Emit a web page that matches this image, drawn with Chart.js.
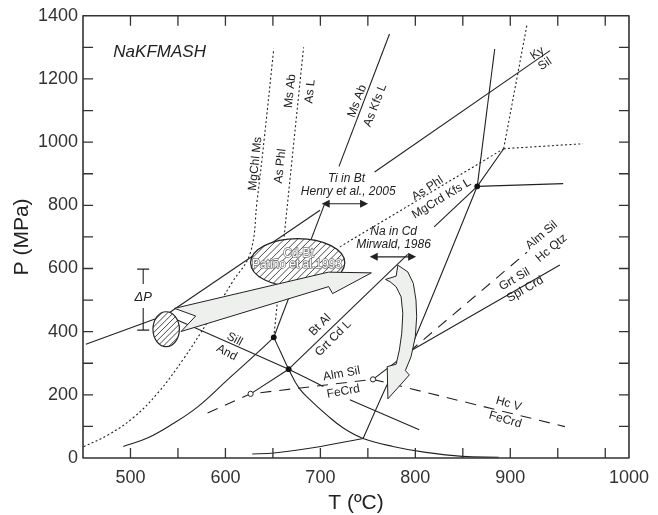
<!DOCTYPE html>
<html><head><meta charset="utf-8">
<script src="https://cdn.jsdelivr.net/npm/chart.js@4.4.1/dist/chart.umd.min.js"></script>
<style>html,body{margin:0;padding:0;background:#fff}canvas{display:block}</style>
</head><body>
<canvas id="c" width="658" height="515"></canvas>
<script>
// Axis ranges: temperature (°C) and pressure (MPa)
const T_MIN = 450, T_MAX = 1025, P_MIN = 0, P_MAX = 1400;
const xTickValues = [500, 600, 700, 800, 900, 1025];
const xTickLabels = ['500', '600', '700', '800', '900', '1000'];
const yTickValues = [0, 200, 400, 600, 800, 1000, 1200, 1400];
const minorTicksT = [500, 550, 600, 650, 700, 750, 800, 850, 900, 950, 1000];
const minorTicksP = [100, 200, 300, 400, 500, 600, 700, 800, 900, 1000, 1100, 1200, 1300];

// Reaction curves as [T, P] pairs
const kyAnd = [[453, 360], [537.3, 452.6]];
const kySilLow = [[537.3, 452.6], [699.6, 784.3]];
const kySilHigh = [[757.1, 905.3], [941.8, 1289.6]];
const andSilA = [[537.3, 452.6], [666.6, 281.1], [703.2, 226.2]];
const andSilB = [[731.0, 184.2], [804.1, 89.4]];
const wetSolidus = [[492.4, 36.6], [518.5, 64.1], [544.6, 108.3], [570.8, 162], [602.1, 247.3], [633.5, 332.6], [650.9, 382.2]];
const meltCurve = [[650.9, 382.2], [658.6, 332.6], [666.6, 281.1], [677.4, 222], [689.2, 184.1], [706.6, 136.7], [724.1, 94.8], [745, 62], [776.3, 36.6], [811.1, 17.7], [849.5, 5], [887.8, 2.5]];
const lowPLine = [[628.2, 12.6], [650.9, 15.8], [700.4, 36.6], [745, 62]];
const btMeltLine = [[745, 62], [771.1, 236.9], [793.4, 336.1], [865.2, 860.1]];
const steepLine = [[865.2, 860.1], [883.6, 1295]];
const mgCrdKfsL = [[819.8, 731.5], [865.2, 860.1], [893, 979.2]];
const flatLine = [[865.2, 860.1], [955.7, 868.7]];
const asPhlMgCrd = [[720.5, 668.4], [893, 979.2]];
const dottedUp = [[893, 979.2], [917.4, 1368.9]];
const dottedRight = [[893, 979.2], [976.6, 994.9]];
const mgChlMs = [[450.6, 35.7], [476.7, 73.6], [502.8, 127.3], [528.9, 206.3], [555.1, 310.5], [581.2, 430.5], [607.3, 556.9], [626.1, 648.5], [633.4, 816], [640.7, 1005.4], [650.9, 1296]];
const msAbAsL = [[650.9, 382.2], [682.3, 1300]];
const msAbKfsHigh = [[719.6, 923.3], [772.8, 1342.4]];
const msAbKfsLow = [[650.9, 382.2], [704.6, 805.4]];
const btAlGrtCd = [[666.6, 281.1], [792.0, 644.4]];
const circleLink = [[626.5, 203.1], [666.6, 281.1]];
const almSilFeCrd = [[581.2, 142.1], [626.5, 203.1], [755.4, 248.9]];
const almSilLink = [[755.4, 248.9], [793.4, 336.1]];
const grtSilSplCrd = [[793.4, 336.1], [952.2, 611]];
const almSilHcQtz = [[793.4, 336.1], [917.7, 651.6]];
const hcVFeCrd = [[755.4, 248.9], [957.5, 99.4]];

// Invariant points
const solidPoints = [[650.9, 382.2], [666.6, 281.1], [865.2, 860.1]];
const openPoints = [[626.5, 203.1], [755.4, 248.9]];

// Thermometer ranges (double arrows) and pressure uncertainty
const tiInBtRange = [[701.4, 805], [750.2, 805]];
const naInCdRange = [[752.0, 636.8], [800.8, 636.8]];
const deltaP = [[513.4, 405], [513.4, 598]];

// P-T estimates (ellipses): centre T, P and half-widths
const cdBtEstimate = [676.1, 618.4, 49.6, 76.4];
const peakEstimate = [537.6, 407.8, 13.9, 55.3];

// P-T path arrows as outlines in [T, P]
const pathStraight = [[546.4, 473.8], [708.4, 588.4], [753.7, 586.2], [712.9, 520.5], [708.7, 542.6], [553.3, 400.5], [568.7, 449.5]];
const pathCurved = [[781.6, 610.5], [792.0, 589.4], [797.9, 552.7], [800.7, 500], [801.4, 447.3], [800.0, 384.1], [795.5, 320.9], [789.5, 276.7],
  [793.7, 263.1], [771.1, 187.3], [770.4, 289.3], [779.8, 296.9],
  [783.2, 342.1], [785.7, 394.8], [786.8, 458], [785.0, 510.4], [779.8, 542], [773.5, 557.8], [768.6, 565.4], [779.8, 575.8]];

// Text annotations: [text, T, P, rotation°, size, italic]
const textNotes = [
  ['NaKFMASH', 530.7, 1284.3, 0, 17, true],
  ['MgChl Ms', 631.5, 931.8, -84, 12, false],
  ['As Phl', 657.8, 924.2, -84, 12, false],
  ['Ms Ab', 668.3, 1161.7, -84, 12, false],
  ['As L', 689.2, 1160.2, -84, 12, false],
  ['Ms Ab', 738.7, 1129.5, -69, 12, false],
  ['As Kfs L', 757.8, 1115.9, -69, 12, false],
  ['Ky', 928.5, 1281.1, -34, 12, false],
  ['Sil', 936.6, 1247.6, -34, 12, false],
  ['As Phl', 812.9, 853, -33, 12, false],
  ['MgCrd Kfs L', 827.6, 821.2, -31, 12, false],
  ['Ti in Bt', 727.5, 884.4, 0, 12, true],
  ['Henry et al., 2005', 729.3, 844.3, 0, 12, true],
  ['Na in Cd', 777.2, 718, 0, 12, true],
  ['Mirwald, 1986', 777.0, 676.9, 0, 12, true],
  ['\u0394P', 513.3, 509.5, 0, 13, true],
  ['Sill', 609.7, 375.9, 28, 12, false],
  ['And', 601.4, 333.5, 28, 12, false],
  ['Bt Al', 699.6, 421, -45, 12, false],
  ['Grt Cd L', 713.6, 379, -45, 12, false],
  ['Alm Sil', 722.3, 266.3, -10, 12, false],
  ['FeCrd', 724.1, 210.4, -10, 12, false],
  ['Hc V', 898.2, 171.5, 16, 12, false],
  ['FeCrd', 894.7, 121, 16, 12, false],
  ['Grt Sil', 904.5, 565.4, -30, 12, false],
  ['Spl Crd', 915.7, 533.8, -30, 12, false],
  ['Alm Sil', 933.1, 705.3, -40, 12, false],
  ['Hc Qtz', 943.4, 664.2, -40, 12, false]
];
const ellipseNotes = [['Cd-Bt', 677.0, 647.5], ['Pati\u00f1o et al.1993', 675.3, 610.5]];

const FONT = '"Liberation Sans", Arial, Helvetica, sans-serif';
const INK = '#222';

const pts = arr => arr.map(([x, y]) => ({ x, y }));
function curve(arr, kind, tension) {
  return {
    data: pts(arr), showLine: true, pointRadius: 0, borderColor: INK,
    borderWidth: 1.1, tension: tension || 0, fill: false,
    borderDash: kind === 'dot' ? [2, 2.4] : kind === 'dash' ? [11, 8] : []
  };
}

const datasets = [
  { data: pts(solidPoints), pointRadius: 2.9, backgroundColor: '#111', borderWidth: 0, showLine: false },
  { data: pts(openPoints), pointRadius: 2.6, backgroundColor: '#fff', borderColor: INK, borderWidth: 1, showLine: false },
  curve(kyAnd), curve(kySilLow), curve(kySilHigh), curve(andSilA, 'solid', 0.2), curve(andSilB),
  curve(wetSolidus, 'solid', 0.4), curve(meltCurve, 'solid', 0.4), curve(lowPLine, 'solid', 0.3),
  curve(btMeltLine, 'solid', 0.15), curve(steepLine), curve(mgCrdKfsL), curve(flatLine),
  curve(asPhlMgCrd, 'dot'), curve(dottedUp, 'dot'), curve(dottedRight, 'dot'),
  curve(mgChlMs, 'dot', 0.4), curve(msAbAsL, 'dot'),
  curve(msAbKfsHigh), curve(msAbKfsLow), curve(btAlGrtCd), curve(circleLink),
  curve(almSilFeCrd, 'dash'), curve(almSilLink), curve(grtSilSplCrd),
  curve(almSilHcQtz, 'dash'), curve(hcVFeCrd, 'dash')
];

const overlay = {
  id: 'overlay',
  afterDatasetsDraw(chart) {
    const ctx = chart.ctx, xs = chart.scales.x, ys = chart.scales.y, a = chart.chartArea;
    const X = t => xs.getPixelForValue(t), Y = p => ys.getPixelForValue(p);
    ctx.save();

    function hatchEllipse(e, spacing) {
      const cx = X(e[0]), cy = Y(e[1]);
      const rx = Math.abs(X(e[0] + e[2]) - cx), ry = Math.abs(Y(e[1] + e[3]) - cy);
      ctx.save();
      ctx.beginPath(); ctx.ellipse(cx, cy, rx, ry, 0, 0, Math.PI * 2);
      ctx.fillStyle = '#fff'; ctx.fill();
      ctx.clip();
      ctx.strokeStyle = '#333'; ctx.lineWidth = 0.9;
      ctx.beginPath();
      for (let d = -2 * (rx + ry); d <= 2 * (rx + ry); d += spacing) {
        ctx.moveTo(cx + d - ry - 2, cy + ry + 2);
        ctx.lineTo(cx + d + ry + 2, cy - ry - 2);
      }
      ctx.stroke();
      ctx.restore();
      ctx.beginPath(); ctx.ellipse(cx, cy, rx, ry, 0, 0, Math.PI * 2);
      ctx.strokeStyle = INK; ctx.lineWidth = 1.2; ctx.stroke();
    }

    function outlineShape(poly) {
      ctx.beginPath();
      poly.forEach(([t, p], i) => i ? ctx.lineTo(X(t), Y(p)) : ctx.moveTo(X(t), Y(p)));
      ctx.closePath();
      ctx.fillStyle = '#eef0ee'; ctx.fill();
      ctx.strokeStyle = INK; ctx.lineWidth = 1; ctx.lineJoin = 'miter'; ctx.stroke();
    }

    function head(x, y, dir) {
      ctx.beginPath();
      ctx.moveTo(x, y); ctx.lineTo(x - dir * 8, y - 4); ctx.lineTo(x - dir * 8, y + 4);
      ctx.closePath(); ctx.fillStyle = INK; ctx.fill();
    }
    function doubleArrow(r) {
      const x1 = X(r[0][0]), x2 = X(r[1][0]), y = Y(r[0][1]);
      ctx.beginPath(); ctx.moveTo(x1 + 4, y); ctx.lineTo(x2 - 4, y);
      ctx.strokeStyle = INK; ctx.lineWidth = 1.2; ctx.stroke();
      head(x1, y, -1); head(x2, y, 1);
    }

    hatchEllipse(cdBtEstimate, 6.6);
    hatchEllipse(peakEstimate, 5.8);
    outlineShape(pathStraight);
    outlineShape(pathCurved);
    doubleArrow(tiInBtRange);
    doubleArrow(naInCdRange);

    // pressure uncertainty bar with a gap for its label
    const bx = X(deltaP[0][0]), yLo = Y(deltaP[0][1]), yHi = Y(deltaP[1][1]);
    const yMid = Y(509.5);
    ctx.strokeStyle = INK; ctx.lineWidth = 1.1;
    ctx.beginPath();
    ctx.moveTo(bx, yHi); ctx.lineTo(bx, yMid - 13);
    ctx.moveTo(bx, yMid + 11); ctx.lineTo(bx, yLo);
    ctx.moveTo(bx - 6, yHi); ctx.lineTo(bx + 6, yHi);
    ctx.moveTo(bx - 6, yLo); ctx.lineTo(bx + 6, yLo);
    ctx.stroke();

    // labels
    ctx.textAlign = 'center'; ctx.textBaseline = 'middle';
    textNotes.forEach(([s, t, p, rot, size, it]) => {
      ctx.save();
      ctx.translate(X(t), Y(p)); ctx.rotate(rot * Math.PI / 180);
      ctx.font = (it ? 'italic ' : '') + size + 'px ' + FONT;
      ctx.fillStyle = INK; ctx.fillText(s, 0, 0);
      ctx.restore();
    });
    ellipseNotes.forEach(([s, t, p]) => {
      ctx.font = '12px ' + FONT;
      ctx.lineWidth = 1.4; ctx.strokeStyle = '#777'; ctx.lineJoin = 'round';
      ctx.strokeText(s, X(t), Y(p));
      ctx.fillStyle = '#fff'; ctx.fillText(s, X(t), Y(p));
    });

    // inward tick marks and frame
    ctx.strokeStyle = '#333'; ctx.lineWidth = 1.3;
    ctx.beginPath();
    minorTicksT.forEach(t => {
      const x = X(t);
      ctx.moveTo(x, a.bottom); ctx.lineTo(x, a.bottom - 10);
      ctx.moveTo(x, a.top); ctx.lineTo(x, a.top + 10);
    });
    minorTicksP.forEach(p => {
      const y = Y(p);
      ctx.moveTo(a.left, y); ctx.lineTo(a.left + 10, y);
      ctx.moveTo(a.right, y); ctx.lineTo(a.right - 10, y);
    });
    ctx.stroke();
    ctx.lineWidth = 1.6;
    ctx.strokeRect(a.left, a.top, a.right - a.left, a.bottom - a.top);

    // axis titles
    ctx.fillStyle = '#222';
    ctx.font = '21px ' + FONT;
    ctx.fillText('T (\u00baC)', (a.left + a.right) / 2, 503);
    ctx.save();
    ctx.translate(22, (a.top + a.bottom) / 2); ctx.rotate(-Math.PI / 2);
    ctx.fillText('P (MPa)', 0, 0);
    ctx.restore();

    ctx.restore();
  }
};

new Chart(document.getElementById('c'), {
  type: 'scatter',
  data: { datasets },
  options: {
    responsive: false, animation: false, devicePixelRatio: 1,
    layout: { padding: { top: 15, right: 24, left: 0, bottom: 0 } },
    plugins: { legend: { display: false }, tooltip: { enabled: false } },
    scales: {
      x: {
        type: 'linear', min: T_MIN, max: T_MAX,
        afterFit(s) { s.height = 57; },
        afterBuildTicks(s) { s.ticks = xTickValues.map(v => ({ value: v })); },
        grid: { display: false, drawTicks: false }, border: { display: false },
        ticks: {
          padding: 9, color: '#333', font: { family: FONT, size: 18 }, maxRotation: 0, autoSkip: false,
          callback: v => xTickLabels[xTickValues.indexOf(v)]
        }
      },
      y: {
        type: 'linear', min: P_MIN, max: P_MAX,
        afterFit(s) { s.width = 83; },
        afterBuildTicks(s) { s.ticks = yTickValues.map(v => ({ value: v })); },
        grid: { display: false, drawTicks: false }, border: { display: false },
        ticks: { padding: 5, color: '#333', font: { family: FONT, size: 18 }, autoSkip: false, callback: v => String(v) }
      }
    }
  },
  plugins: [overlay]
});
</script>
</body></html>
